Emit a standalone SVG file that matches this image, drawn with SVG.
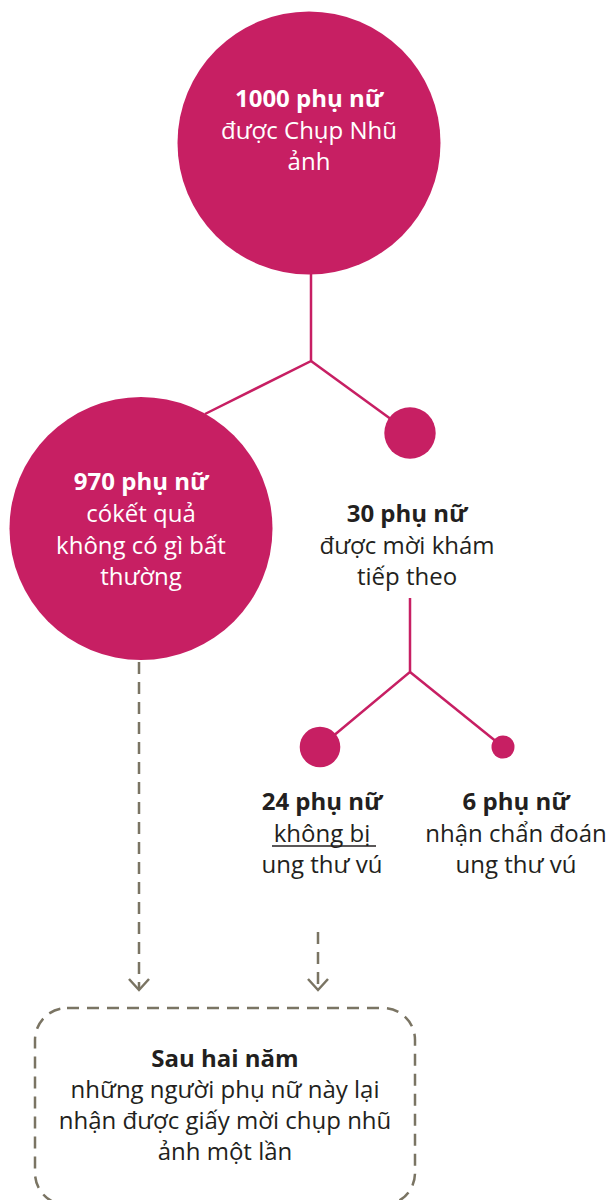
<svg xmlns="http://www.w3.org/2000/svg" width="607" height="1200" viewBox="0 0 607 1200">
<style>
.node{fill:#C71F63}
.w{fill:#ffffff}
.d{fill:#231f20}
text{font-family:"Open Sans","Noto Sans",sans-serif;font-size:24px;text-anchor:middle}
.b{font-weight:bold}
.link{stroke:#C71F63;stroke-width:2.5;fill:none}
.dash{stroke:#7a7463;stroke-width:2.5;fill:none;stroke-dasharray:12 8}
.head{stroke:#7a7463;stroke-width:2.5;fill:none}
</style>
<rect width="607" height="1200" fill="#ffffff"/>
<g id="connectors">
<polyline class="link" points="311,270 311,361 205,414"/>
<line class="link" x1="311" y1="361" x2="410" y2="433"/>
<polyline class="link" points="410,598 410,672 320,747"/>
<line class="link" x1="410" y1="672" x2="503" y2="747"/>
<line class="dash" x1="139" y1="662" x2="139" y2="988"/>
<polyline class="head" points="129,979 139,990 149,979"/>
<line class="dash" x1="318" y1="932" x2="318" y2="988"/>
<polyline class="head" points="308,979 318,990 328,979"/>
</g>
<g id="n1000">
<circle class="node" cx="309" cy="143" r="131.5"/>
<text class="w b" x="309" y="107">1000 phụ nữ</text>
<text class="w" x="309" y="139">được Chụp Nhũ</text>
<text class="w" x="309" y="170">ảnh</text>
</g>
<g id="n970">
<circle class="node" cx="141" cy="528.5" r="131.5"/>
<text class="w b" x="141" y="490">970 phụ nữ</text>
<text class="w" x="141" y="522">cókết quả</text>
<text class="w" x="141" y="554">không có gì bất</text>
<text class="w" x="141" y="585">thường</text>
</g>
<g id="n30">
<circle class="node" cx="410" cy="433" r="25.7"/>
<text class="d b" x="407" y="522">30 phụ nữ</text>
<text class="d" x="407" y="554">được mời khám</text>
<text class="d" x="407" y="585">tiếp theo</text>
</g>
<g id="n24">
<circle class="node" cx="320" cy="747" r="20.3"/>
<text class="d b" x="322" y="810">24 phụ nữ</text>
<text class="d" x="322" y="842">không bị</text>
<line x1="272" y1="846" x2="376" y2="846" stroke="#231f20" stroke-width="1.3"/>
<text class="d" x="322" y="873">ung thư vú</text>
</g>
<g id="n6">
<circle class="node" cx="503" cy="747" r="11.5"/>
<text class="d b" x="516" y="810">6 phụ nữ</text>
<text class="d" x="516" y="842">nhận chẩn đoán</text>
<text class="d" x="516" y="873">ung thư vú</text>
</g>
<g id="n2years">
<rect class="dash" x="35" y="1008" width="380" height="197" rx="32" ry="32"/>
<text class="d b" x="225" y="1067">Sau hai năm</text>
<text class="d" x="225" y="1098">những người phụ nữ này lại</text>
<text class="d" x="225" y="1129">nhận được giấy mời chụp nhũ</text>
<text class="d" x="225" y="1160">ảnh một lần</text>
</g>
</svg>
